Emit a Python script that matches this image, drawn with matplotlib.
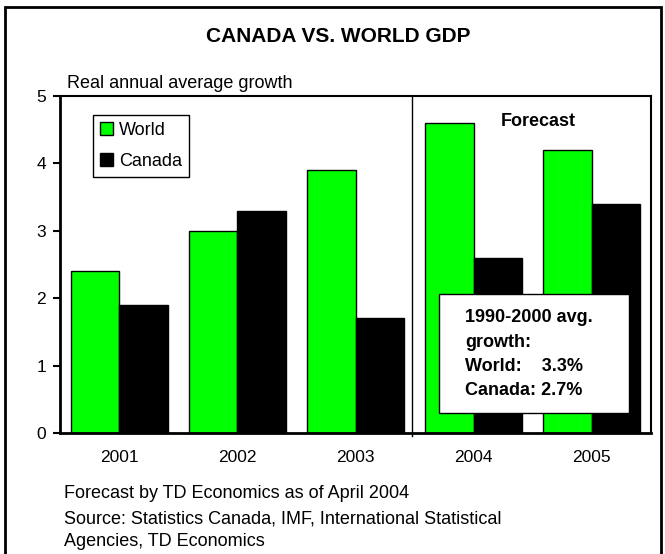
import matplotlib
matplotlib.use('Agg')
import matplotlib.pyplot as plt
from matplotlib.patches import Rectangle
import numpy as np

years = ['2001', '2002', '2003', '2004', '2005']
world = [2.4, 3.0, 3.9, 4.6, 4.2]
canada = [1.9, 3.3, 1.7, 2.6, 3.4]
yticks = [0, 1, 2, 3, 4, 5]

W, H = 665, 554
plt.rcParams['font.family'] = ['Liberation Sans', 'DejaVu Sans']

def px(x, y):
    # pixel position -> figure fraction
    return x / W, 1 - y / H

fig = plt.figure(figsize=(6.65, 5.54), dpi=100)
fig.patches.append(Rectangle(px(5, 560), 656 / W, 553 / H, transform=fig.transFigure,
                             fill=False, edgecolor='black', linewidth=2))

ax = fig.add_axes([60 / W, 1 - 433 / H, 591 / W, 337 / H])
x = np.arange(len(years))
bw = 0.41
ax.bar(x - bw / 2, world, bw, color='#00ff00', edgecolor='black', linewidth=1, label='World')
ax.bar(x + bw / 2, canada, bw, color='black', edgecolor='black', linewidth=1, label='Canada')

ax.set_xlim(-0.5, 4.5)
ax.set_ylim(0, 5)
ax.set_yticks(yticks)
ax.set_xticks(x)
ax.set_xticklabels(years)
ax.tick_params(axis='x', length=0, pad=12, labelsize=12.5)
ax.tick_params(axis='y', length=5, width=1.5, pad=5, labelsize=12.5)
for s in ax.spines.values():
    s.set_linewidth(1.5)
ax.spines['left'].set_linewidth(2)
ax.spines['bottom'].set_linewidth(2)

ax.plot([2.48, 2.48], [-0.05, 5], color='black', linewidth=1, clip_on=False)
ax.text(3.55, 4.62, 'Forecast', ha='center', va='center', fontsize=13, fontweight='bold')

ax.add_patch(Rectangle((2.71, 0.3), 1.6, 1.76, facecolor='white', edgecolor='black',
                       linewidth=1, zorder=5))
ax.text(2.93, 1.17, '1990-2000 avg.\ngrowth:\nWorld:    3.3%\nCanada: 2.7%', ha='left',
        va='center', fontsize=13, fontweight='bold', linespacing=1.55, zorder=6)

leg = ax.legend(loc='upper left', bbox_to_anchor=(0.056, 0.944), fancybox=False,
                edgecolor='black', framealpha=1, fontsize=13, handlelength=0.72,
                handleheight=0.72, handletextpad=0.3, borderpad=0.4, labelspacing=0.75,
                borderaxespad=0)
leg.get_frame().set_linewidth(1)

fig.text(*px(338, 37), 'CANADA VS. WORLD GDP', ha='center', va='center', fontsize=15,
         fontweight='bold')
fig.text(*px(67, 84), 'Real annual average growth', ha='left', va='center', fontsize=13)
fig.text(*px(64, 494), 'Forecast by TD Economics as of April 2004', ha='left', va='center',
         fontsize=13)
fig.text(*px(64, 519), 'Source: Statistics Canada, IMF, International Statistical', ha='left',
         va='center', fontsize=13)
fig.text(*px(64, 542), 'Agencies, TD Economics', ha='left', va='center', fontsize=13)

fig.savefig('out.png', dpi=100)
